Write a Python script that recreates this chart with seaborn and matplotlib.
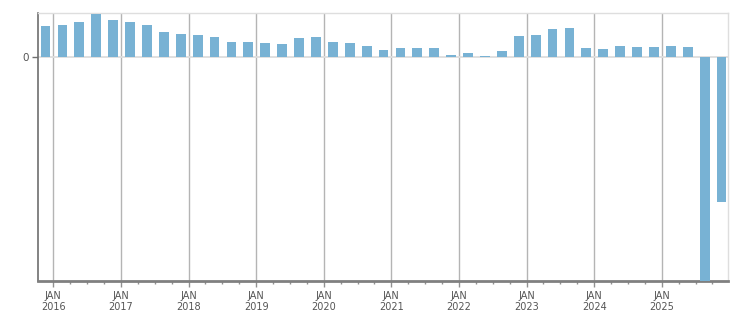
import numpy as np
import pandas as pd
import matplotlib
matplotlib.use("Agg")
import matplotlib.pyplot as plt
import seaborn as sns

# Quarterly periods, Q4 2015 .. Q4 2025
quarters = [f"{y}Q{q}" for y in range(2015, 2026) for q in range(1, 5)][3:]
values = [3.1, 3.2, 3.5, 4.3, 3.7, 3.5, 3.2, 2.5, 2.3, 2.2, 2.0, 1.5, 1.5, 1.4,
          1.3, 1.9, 2.0, 1.5, 1.4, 1.1, 0.7, 0.9, 0.9, 0.9, 0.2, 0.4, 0.1, 0.6,
          2.1, 2.2, 2.8, 2.9, 0.9, 0.8, 1.1, 1.0, 1.0, 1.1, 1.0, -23.0, -14.5]
tick_years = list(range(2016, 2026))
tick_labels = [f"JAN\n{y}" for y in tick_years]

per = pd.PeriodIndex(quarters, freq="Q")
xpos = per.year + (per.quarter - 1) / 4 + 0.135
df = pd.DataFrame({"t": np.asarray(xpos, dtype=float), "v": values})

sns.set_style("white")
plt.rcParams["font.family"] = ["DejaVu Sans"]

fig = plt.figure(figsize=(7.51, 3.13), dpi=100)
ax = fig.add_axes([37.5 / 751, 1 - 280.5 / 313, (728 - 37.5) / 751, (280.5 - 13) / 313])

sns.barplot(data=df, x="t", y="v", native_scale=True, width=0.58,
            color="#78b2d4", saturation=1, ax=ax, zorder=3,
            linewidth=0, edgecolor="none")

ax.set_xlim(2015.766, 2025.98)
ax.set_ylim(-22.35, 4.4)

# gridlines
for y in tick_years:
    ax.axvline(y, color="#b4b4b4", lw=1, zorder=1)
ax.axhline(0, color="#dddddd", lw=1.3, zorder=2)

ax.set_xticks(tick_years)
ax.set_xticklabels(tick_labels, fontsize=7, color="#555555", linespacing=1.15)
ax.set_xticks(np.arange(2016, 2026, 0.25), minor=True)
ax.tick_params(axis="x", which="major", length=4.5, width=1, color="#909090",
               direction="out", pad=3, bottom=True)
ax.tick_params(axis="x", which="minor", length=2.5, width=1, color="#909090",
               direction="out", bottom=True)
ax.set_yticks([0])
ax.set_yticklabels(["0"], fontsize=7.5, color="#555555")
ax.tick_params(axis="y", length=4, width=1, color="#707070", left=True, pad=2)

ax.set_xlabel("")
ax.set_ylabel("")

for s in ["top", "right"]:
    ax.spines[s].set_visible(True)
    ax.spines[s].set_color("#dedede")
    ax.spines[s].set_linewidth(1)
ax.spines["left"].set_color("#6e6e6e")
ax.spines["left"].set_linewidth(1.2)
ax.spines["bottom"].set_color("#808080")
ax.spines["bottom"].set_linewidth(2)

fig.savefig("out.png", dpi=100)
